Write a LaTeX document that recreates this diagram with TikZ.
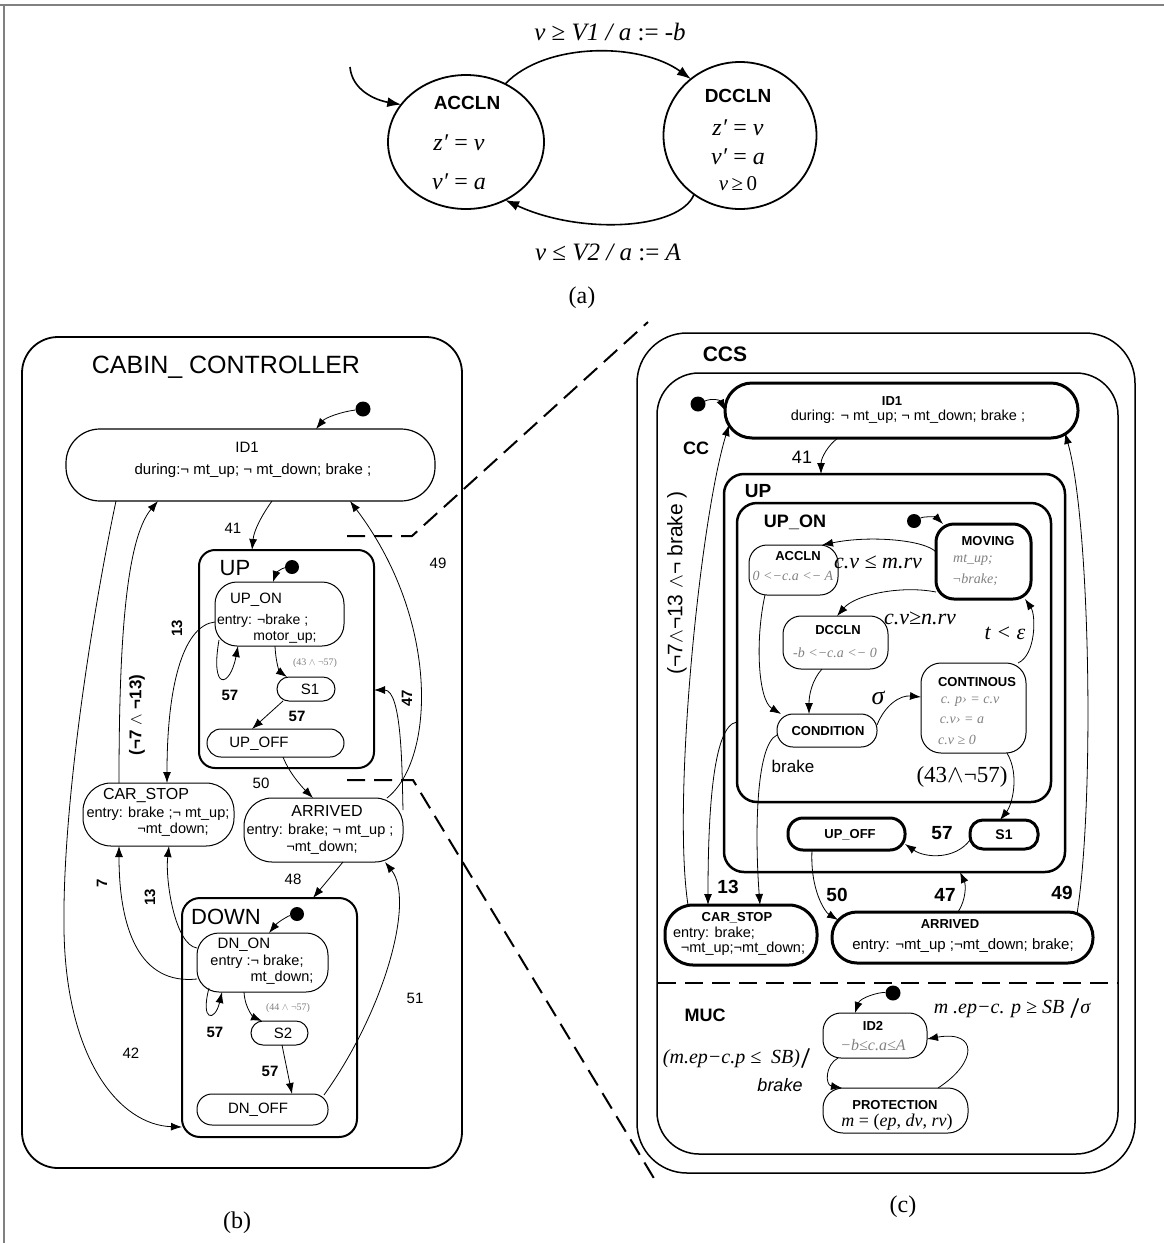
\documentclass[tikz,border=0pt]{standalone}
\usepackage{fontspec}
\setmainfont{Liberation Sans}
\newfontfamily\tms{Liberation Serif}
\newfontfamily\djv{DejaVu Sans}
\usetikzlibrary{arrows.meta,shapes.geometric}
\newcommand\fsz[2]{\fontsize{#1}{#2}\selectfont}
\definecolor{gtxt}{gray}{0.5}
\definecolor{frm}{gray}{0.5}
\begin{document}
\begin{tikzpicture}[x=1pt,y=-1pt,
  st/.style={draw, rectangle, inner sep=0pt, outer sep=0pt, line width=1pt},
  thk/.style={line width=3pt},
  arr/.style={-{Latex[length=11pt,width=8pt]}, line width=0.8pt},
  arra/.style={-{Latex[length=14pt,width=10pt]}, line width=1.6pt},
  tx/.style={inner sep=0pt, outer sep=0pt},
  dotn/.style={circle, fill=black, inner sep=0pt, minimum size=15pt},
  dsh/.style={dash pattern=on 18pt off 9pt, line width=2pt},
  gr/.style={text=gtxt},
]
\useasboundingbox (0,0) rectangle (1164,1243);
% frame
\draw[frm, line width=1.5pt] (0,5) -- (1164,5);
\draw[frm, line width=1.5pt] (4,5) -- (4,1243);

%%%%%%%%%%%%%%%% (a)
\node[draw, ellipse, line width=1.8pt, minimum width=156pt, minimum height=134pt, inner sep=0pt, outer sep=0pt] (accln) at (466,142) {};
\node[draw, ellipse, line width=1.8pt, minimum width=153pt, minimum height=147pt, inner sep=0pt, outer sep=0pt] (dccln) at (740,135.5) {};
\node[tx, font=\bfseries\fsz{19}{22}] (aA0) at (467,103) {ACCLN};
\node[tx, font=\tms\fsz{24}{26}] (aA1) at (459,143) {\textit{z′} = \textit{v}};
\node[tx, font=\tms\fsz{24}{26}] (aA2) at (459,182) {\textit{v′} = \textit{a}};
\node[tx, font=\bfseries\fsz{19}{22}] (aD0) at (738,96) {DCCLN};
\node[tx, font=\tms\fsz{24}{26}] (aD1) at (738,128) {\textit{z′} = \textit{v}};
\node[tx, font=\tms\fsz{24}{26}] (aD2) at (738,157) {\textit{v′} = \textit{a}};
\node[tx, font=\tms\fsz{21}{24}] (aD3) at (738,184) {\textit{v}\,≥\,0};
\coordinate (ainit) at (350,67);
\draw[arra] (ainit) .. controls (352,90) and (375,100) .. (accln.150);
\draw[arra] (accln.56) .. controls (545,42) and (640,42) .. (dccln.131);
\draw[arra] (dccln.232) .. controls (680,230) and (580,235) .. (accln.304);
\node[tx, font=\tms\fsz{25}{28}] (aL1) at (610,32) {\textit{v} ≥ \textit{V1 / a} := -\textit{b}};
\node[tx, font=\tms\fsz{25}{28}] (aL2) at (608,252) {\textit{v} ≤ \textit{V2 / a} := \textit{A}};
\node[tx, font=\tms\fsz{24}{26}] (capa) at (582,298) {(a)};

%%%%%%%%%%%%%%%% (b)
\node[st, line width=1.8pt, rounded corners=36pt, minimum width=440pt, minimum height=831pt] (cabin) at (242,752.5) {};
\node[tx, font=\fsz{25}{28}] (cabinT) at (226,367) {CABIN\_ CONTROLLER};
\node[st, line width=1.2pt, rounded corners=34pt, minimum width=369pt, minimum height=72pt] (id1b) at (250.5,465) {};
\node[tx, font=\fsz{15}{17}] (id1bT) at (247,447) {ID1};
\node[tx, font=\fsz{15}{17}] (id1bD) at (253,471) {during:¬ mt\_up; ¬ mt\_down; brake ;};
\node[dotn] (dotb1) at (363,409) {};
\draw[arr] (dotb1) .. controls (340,412) and (325,418) .. ([xshift=65.5pt]id1b.north);

\node[st, line width=2pt, rounded corners=16pt, minimum width=175pt, minimum height=218pt] (upb) at (286.5,659) {};
\node[tx, font=\fsz{22}{24}] (upbT) at (235,568) {UP};
\node[st, rounded corners=22pt, minimum width=129pt, minimum height=64pt] (upon) at (279.5,614) {};
\node[tx, font=\fsz{15}{17}] (uponT) at (256,600) {UP\_ON};
\node[tx, font=\fsz{14}{16}, anchor=west] (uponE) at (217,621) {entry: ¬brake ;};
\node[tx, font=\fsz{14}{16}] (uponM) at (285,637.5) {motor\_up;};
\node[dotn, minimum size=14pt] (dotb2) at (292,567) {};
\draw[arr] (dotb2) .. controls (282,568) and (276,573) .. ([xshift=-6.5pt]upon.north);
\node[st, rounded corners=12pt, minimum width=58pt, minimum height=24pt] (s1b) at (306,689) {};
\node[tx, font=\fsz{15}{17}] (s1bT) at (310,689) {S1};
\node[st, rounded corners=14pt, minimum width=137pt, minimum height=28pt] (upoffb) at (275.5,743) {};
\node[tx, font=\fsz{15}{17}] (upoffbT) at (259,744) {UP\_OFF};

\node[st, rounded corners=28pt, minimum width=151pt, minimum height=63pt] (carb) at (158.5,814.5) {};
\node[tx, font=\fsz{16}{18}] (carbT) at (146,795) {CAR\_STOP};
\node[tx, font=\fsz{14.5}{17}] (carbE) at (158,814) {entry: brake ;¬ mt\_up;};
\node[tx, font=\fsz{14.5}{17}] (carbF) at (173,830) {¬mt\_down;};
\node[st, rounded corners=28pt, minimum width=159pt, minimum height=64pt] (arrb) at (323.5,830) {};
\node[tx, font=\fsz{16}{18}] (arrbT) at (327,811) {ARRIVED};
\node[tx, font=\fsz{14.5}{17}] (arrbE) at (320,831) {entry: brake; ¬ mt\_up ;};
\node[tx, font=\fsz{14.5}{17}] (arrbF) at (322,848) {¬mt\_down;};

\node[st, line width=2pt, rounded corners=18pt, minimum width=175pt, minimum height=239pt] (downb) at (269.5,1017.5) {};
\node[tx, font=\fsz{22}{24}] (downbT) at (226,917) {DOWN};
\node[dotn, minimum size=14pt] (dotb3) at (297,914) {};
\node[st, rounded corners=22pt, minimum width=131pt, minimum height=59pt] (dnon) at (262.5,962.5) {};
\draw[arr] (dotb3) .. controls (288,916) and (278,922) .. ([xshift=6.5pt]dnon.north);
\node[tx, font=\fsz{15}{17}] (dnonT) at (244,945) {DN\_ON};
\node[tx, font=\fsz{14.5}{17}] (dnonE) at (257,962) {entry :¬ brake;};
\node[tx, font=\fsz{14.5}{17}] (dnonM) at (282,978) {mt\_down;};
\node[st, rounded corners=12pt, minimum width=57pt, minimum height=24pt] (s2b) at (279.5,1033) {};
\node[tx, font=\fsz{15}{17}] (s2bT) at (283,1033) {S2};
\node[st, rounded corners=15pt, minimum width=131pt, minimum height=31pt] (dnoff) at (262.5,1109.5) {};
\node[tx, font=\fsz{15}{17}] (dnoffT) at (258,1110) {DN\_OFF};

% (b) connectors
\draw[arr] ([xshift=21.5pt]id1b.south) .. controls (262,515) and (254,530) .. ([xshift=-34.5pt]upb.north);
\node[tx, font=\fsz{15}{17}] (l41b) at (233,528) {41};
\draw[arr] ([xshift=4pt,yshift=6pt]upon.south west) .. controls (210,692) and (230,688) .. ([xshift=-41.5pt]upon.south);
\node[tx, font=\bfseries\fsz{15}{17}] (l57a) at (230,695) {57};
\draw[arr] ([xshift=-4.5pt]upon.south) .. controls (276,665) and (280,672) .. ([xshift=-19pt]s1b.north);
\node[tx, font=\tms\fsz{10}{12}, gr] (lc43) at (315,663) {(43 $\wedge$ ¬57)};
\draw[arr] ([xshift=-23pt]s1b.south) -- ([xshift=-23.5pt]upoffb.north);
\node[tx, font=\bfseries\fsz{15}{17}] (l57b) at (297,716) {57};
\draw[arr] ([xshift=7.5pt]upoffb.south) .. controls (290,775) and (305,790) .. ([xshift=-10.5pt]arrb.north);
\node[tx, font=\fsz{15}{17}] (l50b) at (261,783) {50};
\draw[arr] ([xshift=19.5pt]arrb.south) -- ([xshift=43.5pt]downb.north);
\node[tx, font=\fsz{15}{17}] (l48b) at (293,879) {48};
\draw[arr] ([yshift=20pt]arrb.east) .. controls (402,770) and (402,690) .. ([yshift=-31pt]upb.east);
\node[tx, font=\bfseries\fsz{15}{17}, rotate=90] (l47b) at (407,698) {47};
\draw[arr] ([xshift=63.5pt]arrb.north) .. controls (435,760) and (440,620) .. ([xshift=99.5pt]id1b.south);
\node[tx, font=\fsz{15}{17}] (l49b) at (438,563) {49};
\draw[arr] ([yshift=-8pt]upon.west) .. controls (185,625) and (167,680) .. ([xshift=8.5pt]carb.north);
\node[tx, font=\bfseries\fsz{15}{17}, rotate=90] (l13a) at (177,628) {13};
\draw[arr] ([xshift=-39.5pt]carb.north) .. controls (119,650) and (125,540) .. ([xshift=-92.5pt]id1b.south);
\node[tx, font=\bfseries\fsz{17}{19}, rotate=90] (lneg) at (137,715) {(¬7 $\wedge$ ¬13)};
\draw[arr] ([xshift=-134.5pt]id1b.south) .. controls (95,600) and (62,800) .. (64,930) .. controls (66,1060) and (120,1125) .. ([yshift=-109.5pt]downb.west);
\node[tx, font=\fsz{15}{17}] (l42b) at (131,1053) {42};
\draw[arr] ([yshift=14.5pt]dnon.west) .. controls (175,945) and (165,880) .. ([xshift=10.5pt]carb.south);
\node[tx, font=\bfseries\fsz{15}{17}, rotate=90] (l13b) at (150,897) {13};
\draw[arr] ([yshift=-16.5pt]dnon.west) .. controls (140,985) and (119,930) .. ([xshift=-39.5pt]carb.south);
\node[tx, font=\bfseries\fsz{15}{17}, rotate=90] (l7b) at (102,883) {7};
\draw[arr] ([xshift=12pt,yshift=4pt]dnon.south west) .. controls (200,1022) and (215,1022) .. ([xshift=-40.5pt]dnon.south);
\node[tx, font=\bfseries\fsz{15}{17}] (l57c) at (215,1032) {57};
\draw[arr] ([xshift=-18.5pt]dnon.south) .. controls (245,1010) and (255,1018) .. ([xshift=-17.5pt]s2b.north);
\node[tx, font=\tms\fsz{10}{12}, gr] (lc44) at (288,1008) {(44 $\wedge$ ¬57)};
\draw[arr] ([xshift=2.5pt]s2b.south) -- ([xshift=29.5pt]dnoff.north);
\node[tx, font=\bfseries\fsz{15}{17}] (l57d) at (270,1071) {57};
\draw[arr] ([xshift=-4pt,yshift=-1pt]dnoff.north east) .. controls (385,1010) and (415,900) .. ([xshift=61.5pt]arrb.south);
\node[tx, font=\fsz{15}{17}] (l51b) at (415,998) {51};
\node[tx, font=\tms\fsz{24}{26}] (capb) at (237,1223) {(b)};

% dashed zoom lines
\draw[dsh] (347,536) -- (412,536) -- (648,322);
\draw[dsh] (347,780) -- (413,780) -- (655,1180);

%%%%%%%%%%%%%%%% (c)
\node[st, line width=1.5pt, rounded corners=50pt, minimum width=498pt, minimum height=840pt] (ccs) at (886,753) {};
\node[tx, font=\bfseries\fsz{21}{24}] (ccsT) at (725,354) {CCS};
\node[st, line width=1.5pt, rounded corners=42pt, minimum width=461pt, minimum height=781pt] (cc) at (887.5,763.5) {};
\node[tx, font=\bfseries\fsz{18}{20}] (ccT) at (696,448) {CC};
\draw[dsh] (658,983) -- (1118,983);

\node[st, thk, rounded corners=27pt, minimum width=353pt, minimum height=55pt] (id1c) at (901.5,410.5) {};
\node[tx, font=\bfseries\fsz{13}{15}] (id1cT) at (892,401) {ID1};
\node[tx, font=\fsz{14.5}{16}] (id1cD) at (908,417) {during: ¬ mt\_up; ¬ mt\_down; brake ;};
\node[dotn] (dotc1) at (698,404) {};
\draw[arr] (dotc1) .. controls (712,398) and (720,400) .. (id1c.west);

\node[st, line width=2.5pt, rounded corners=20pt, minimum width=341pt, minimum height=398pt] (upc) at (894.5,673) {};
\node[tx, font=\bfseries\fsz{19}{21}] (upcT) at (758,491) {UP};
\draw[arr] ([xshift=-63.5pt]id1c.south) .. controls (828,445) and (821,458) .. ([xshift=-73.5pt]upc.north);
\node[tx, font=\fsz{18}{20}] (l41c) at (802,457) {41};
\node[st, line width=2.5pt, rounded corners=20pt, minimum width=314pt, minimum height=299pt] (uponc) at (894,652.5) {};
\node[tx, font=\bfseries\fsz{18}{20}] (uponcT) at (795,522) {UP\_ON};
\node[st, thk, rounded corners=18pt, minimum width=95pt, minimum height=75pt] (moving) at (983.5,561.5) {};
\node[tx, font=\bfseries\fsz{13}{15}] (movT) at (988,541) {MOVING};
\node[tx, font=\tms\itshape\fsz{14}{16}, gr] (movA) at (973,560) {mt\_up;};
\node[tx, font=\tms\itshape\fsz{14}{16}, gr] (movB) at (975,580) {¬brake;};
\node[dotn, minimum size=14pt] (dotc2) at (914,521) {};
\draw[arr] (dotc2) .. controls (925,516) and (936,517) .. ([xshift=-40.5pt]moving.north);

\node[st, rounded corners=18pt, minimum width=89pt, minimum height=50pt] (acclnc) at (793.5,570) {};
\node[tx, font=\bfseries\fsz{13}{15}] (acT) at (798,556) {ACCLN};
\node[tx, font=\tms\itshape\fsz{14}{16}, gr] (acD) at (793,576) {0 <−c.a <− A};
\node[st, rounded corners=18pt, minimum width=105pt, minimum height=53pt] (dcclnc) at (835.5,642.5) {};
\node[tx, font=\bfseries\fsz{13}{15}] (dcT) at (838,630) {DCCLN};
\node[tx, font=\tms\itshape\fsz{14}{16}, gr] (dcD) at (835,653) {-b <−c.a <− 0};
\node[st, rounded corners=16pt, minimum width=100pt, minimum height=33pt] (cond) at (827,730.5) {};
\node[tx, font=\bfseries\fsz{13}{15}] (condT) at (828,731) {CONDITION};
\node[st, rounded corners=20pt, minimum width=105pt, minimum height=90pt] (cont) at (973.5,708) {};
\node[tx, font=\bfseries\fsz{13}{15}] (contT) at (977,682) {CONTINOUS};
\node[tx, font=\tms\itshape\fsz{14}{16}, gr] (contA) at (970,702) {c. p› = c.v};
\node[tx, font=\tms\itshape\fsz{14}{16}, gr] (contB) at (962,720) {c.v› = a};
\node[tx, font=\tms\itshape\fsz{14}{16}, gr] (contC) at (957,740) {c.v ≥ 0};
\node[st, thk, rounded corners=13pt, minimum width=68pt, minimum height=29pt] (s1c) at (1004,834.5) {};
\node[tx, font=\bfseries\fsz{14}{16}] (s1cT) at (1004,835) {S1};
\node[st, thk, rounded corners=15pt, minimum width=117pt, minimum height=32pt] (upoffc) at (846.5,834) {};
\node[tx, font=\bfseries\fsz{13}{15}] (upoffcT) at (850,835) {UP\_OFF};
\node[st, thk, rounded corners=28pt, minimum width=152pt, minimum height=60pt] (carc) at (741,935) {};
\node[tx, font=\bfseries\fsz{13}{15}] (carcT) at (737,918) {CAR\_STOP};
\node[tx, font=\fsz{14.5}{16}, anchor=west] (carcE) at (673,934) {entry: brake;};
\node[tx, font=\fsz{14.5}{16}] (carcF) at (743,949) {¬mt\_up;¬mt\_down;};
\node[st, thk, rounded corners=25pt, minimum width=261pt, minimum height=51pt] (arrc) at (962.5,937.5) {};
\node[tx, font=\bfseries\fsz{13}{15}] (arrcT) at (950,924) {ARRIVED};
\node[tx, font=\fsz{15}{17}] (arrcE) at (963,946) {entry: ¬mt\_up ;¬mt\_down; brake;};

% (c) connectors
\draw[arr] ([yshift=9.5pt]moving.west) .. controls (925,540) and (870,535) .. ([xshift=28.5pt]acclnc.north);
\node[tx, font=\tms\itshape\fsz{22}{24}] (lcv1) at (878,562) {c.v ≤ m.rv};
\draw[arr] ([yshift=-30.5pt]moving.west) .. controls (900,585) and (855,595) .. ([xshift=1.5pt]dcclnc.north);
\node[tx, font=\tms\itshape\fsz{22}{24}] (lcv2) at (920,618) {c.v≥n.rv};
\draw[arr] ([xshift=-28.5pt]acclnc.south) .. controls (755,640) and (758,700) .. ([xshift=4pt]cond.north west);
\draw[arr] ([xshift=-13.5pt]dcclnc.south) .. controls (812,680) and (809,695) .. ([xshift=-18pt]cond.north);
\draw[arr] ([yshift=5.5pt]cond.east) .. controls (885,705) and (900,695) .. ([yshift=11pt]cont.west);
\node[tx, font=\tms\itshape\fsz{26}{28}] (lsig) at (878,698) {σ};
\draw[arr] ([xshift=44.5pt]cont.north) .. controls (1036,655) and (1036,615) .. ([xshift=41.5pt]moving.south);
\node[tx, font=\tms\itshape\fsz{22}{24}] (lteps) at (1005,633) {t < ε};
\draw[arr] ([xshift=33.5pt]cont.south) .. controls (1020,775) and (1012,805) .. ([xshift=-4pt]s1c.north);
\node[tx, font=\tms\fsz{23}{25}] (l43c) at (962,777) {(43$\wedge$¬57)};
\node[tx, font=\fsz{17}{19}] (lbrk) at (793,766) {brake};
\draw[arr] ([yshift=-5.5pt]s1c.west) .. controls (955,860) and (925,858) .. ([yshift=-10pt]upoffc.east);
\node[tx, font=\bfseries\fsz{19}{21}] (l57e) at (942,833) {57};
\draw[arr] ([yshift=-4.5pt]cond.west) .. controls (755,745) and (755,840) .. ([xshift=19pt]carc.north);
\draw[arr] ([yshift=-69.5pt]uponc.west) .. controls (712,725) and (708,820) .. ([xshift=-33pt]carc.north);
\node[tx, font=\bfseries\fsz{19}{21}] (l13c) at (728,887) {13};
\draw[arr] ([xshift=-53pt]carc.north) .. controls (672,800) and (700,520) .. ([xshift=4pt,yshift=13pt]id1c.south west);
\node[tx, font=\fsz{21}{23}, rotate=90] (lnegc) at (677,583) {(¬7$\wedge$¬13 $\wedge$¬ brake )};
\draw[arr] ([xshift=-34.5pt]upoffc.south) .. controls (810,890) and (825,912) .. ([xshift=6pt,yshift=-8pt]arrc.north west);
\node[tx, font=\bfseries\fsz{19}{21}] (l50c) at (837,895) {50};
\draw[arr] ([xshift=-4.5pt]arrc.north) .. controls (966,900) and (966,885) .. ([xshift=65.5pt]upc.south);
\node[tx, font=\bfseries\fsz{19}{21}] (l47c) at (945,895) {47};
\draw[arr] ([xshift=-16pt,yshift=-2pt]arrc.north east) .. controls (1095,800) and (1090,520) .. ([xshift=-13pt,yshift=5pt]id1c.south east);
\node[tx, font=\bfseries\fsz{19}{21}] (l49c) at (1062,893) {49};

% MUC
\node[tx, font=\bfseries\fsz{18}{20}] (mucT) at (705,1015) {MUC};
\node[st, rounded corners=18pt, minimum width=104pt, minimum height=45pt] (id2) at (875,1035.5) {};
\node[tx, font=\bfseries\fsz{13}{15}] (id2T) at (873,1026) {ID2};
\node[tx, font=\tms\itshape\fsz{16}{18}, gr] (id2D) at (873,1045) {−b≤c.a≤A};
\node[st, rounded corners=20pt, minimum width=145pt, minimum height=45pt] (prot) at (895.5,1110.5) {};
\node[tx, font=\bfseries\fsz{13}{15}] (protT) at (895,1105) {PROTECTION};
\node[tx, font=\tms\fsz{18}{20}] (protD) at (897,1122) {\textit{m} = (\textit{ep}, \textit{dv}, \textit{rv})};
\node[dotn] (dotc3) at (893,993) {};
\draw[arr] (dotc3) .. controls (878,992) and (860,998) .. ([xshift=-20pt]id2.north);
\draw[arr] ([xshift=-37pt]id2.south) .. controls (825,1065) and (825,1085) .. ([xshift=19pt]prot.north west);
\node[tx, font=\tms\itshape\fsz{20}{22}] (lmep1) at (737,1058) {(m.ep−c.p ≤ \ SB){\sffamily\upshape\bfseries /}};
\node[tx, font=\itshape\fsz{18}{20}] (lbrk2) at (780,1085) {brake};
\draw[arr] ([xshift=42.5pt]prot.north) .. controls (978,1062) and (978,1030) .. ([yshift=-3.5pt]id2.east);
\node[tx, font=\tms\itshape\fsz{20}{22}] (lmep2) at (1012,1008) {m .ep−c. p ≥ SB {\sffamily\upshape\bfseries /}σ};
\node[tx, font=\tms\fsz{24}{26}] (capc) at (903,1207) {(c)};
\end{tikzpicture}
\end{document}
